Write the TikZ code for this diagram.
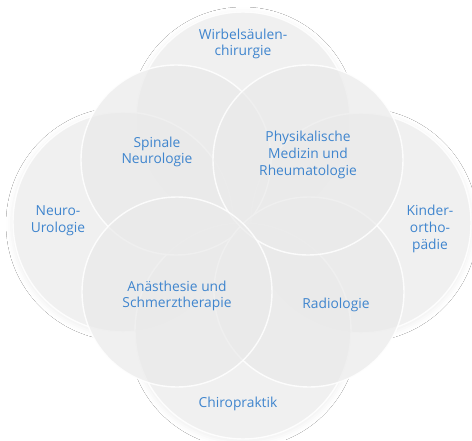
\documentclass[tikz,border=0pt]{standalone}
\usepackage{fontspec}
\setmainfont{Open Sans}
\usetikzlibrary{shadows.blur}
\definecolor{txtblue}{HTML}{3F85CE}
\definecolor{petalgray}{HTML}{EAEAEA}
\tikzset{
  petalshadow/.style={blur shadow={shadow xshift=0pt, shadow yshift=-2pt, shadow blur radius=7pt, shadow opacity=7}},
  petal/.style={fill=petalgray, fill opacity=0.7, draw=white, draw opacity=0.85, line width=1.4pt},
}
\begin{document}
\begin{tikzpicture}[x={(1pt,0)}, y={(0,-1pt)}]
   \useasboundingbox[fill=white] (0,0) rectangle (472,440);
   \coordinate (mid) at (243,226);
   \coordinate (ctop) at (243,119);
   \coordinate (cleft) at (123,222);
   \coordinate (cright) at (361,223);
   \coordinate (cbottom) at (243,331);
   \coordinate (cspin) at (176,160);
   \coordinate (cradio) at (309,292);
   \coordinate (cphys) at (308,160);
   \coordinate (canae) at (177,292);
   % shadows and white base under the whole flower
   \foreach \c/\r in {ctop/107, cleft/110, cright/110, cbottom/108} {
     \path[petalshadow] (\c) circle (\r);
   }
   \foreach \c/\r in {ctop/107, cleft/110, cright/110, cbottom/108, cspin/95, cradio/95, cphys/95, canae/95} {
     \fill[white] (\c) circle (\r);
   }
   % outer circles
   \path[petal] (ctop) circle (107);
   \path[petal] (cleft) circle (110);
   \path[petal] (cright) circle (110);
   \path[petal] (cbottom) circle (108);
   % inner circles
   \path[petal] (cspin) circle (95);
   \path[petal] (cradio) circle (95);
   \path[petal] (cphys) circle (95);
   \path[petal] (canae) circle (95);
   \begin{scope}[every node/.style={font=\fontsize{13.8}{16.7}\selectfont, text=txtblue, align=center, inner sep=0pt}]
    \node (wirbel) at (243,44) {Wirbelsäulen-\\chirurgie};
    \node (spinal) at (157,152) {Spinale\\Neurologie};
    \node (phys) at (308,155) {Physikalische\\Medizin und\\Rheumatologie};
    \node (neuro) at (58,221) {Neuro-\\Urologie};
    \node (kinder) at (430,229) {Kinder-\\ortho-\\pädie};
    \node (anae) at (177,296) {Anästhesie und\\Schmerztherapie};
    \node (radio) at (336,305) {Radiologie};
    \node (chiro) at (238,404) {Chiropraktik};
   \end{scope}
\end{tikzpicture}
\end{document}
